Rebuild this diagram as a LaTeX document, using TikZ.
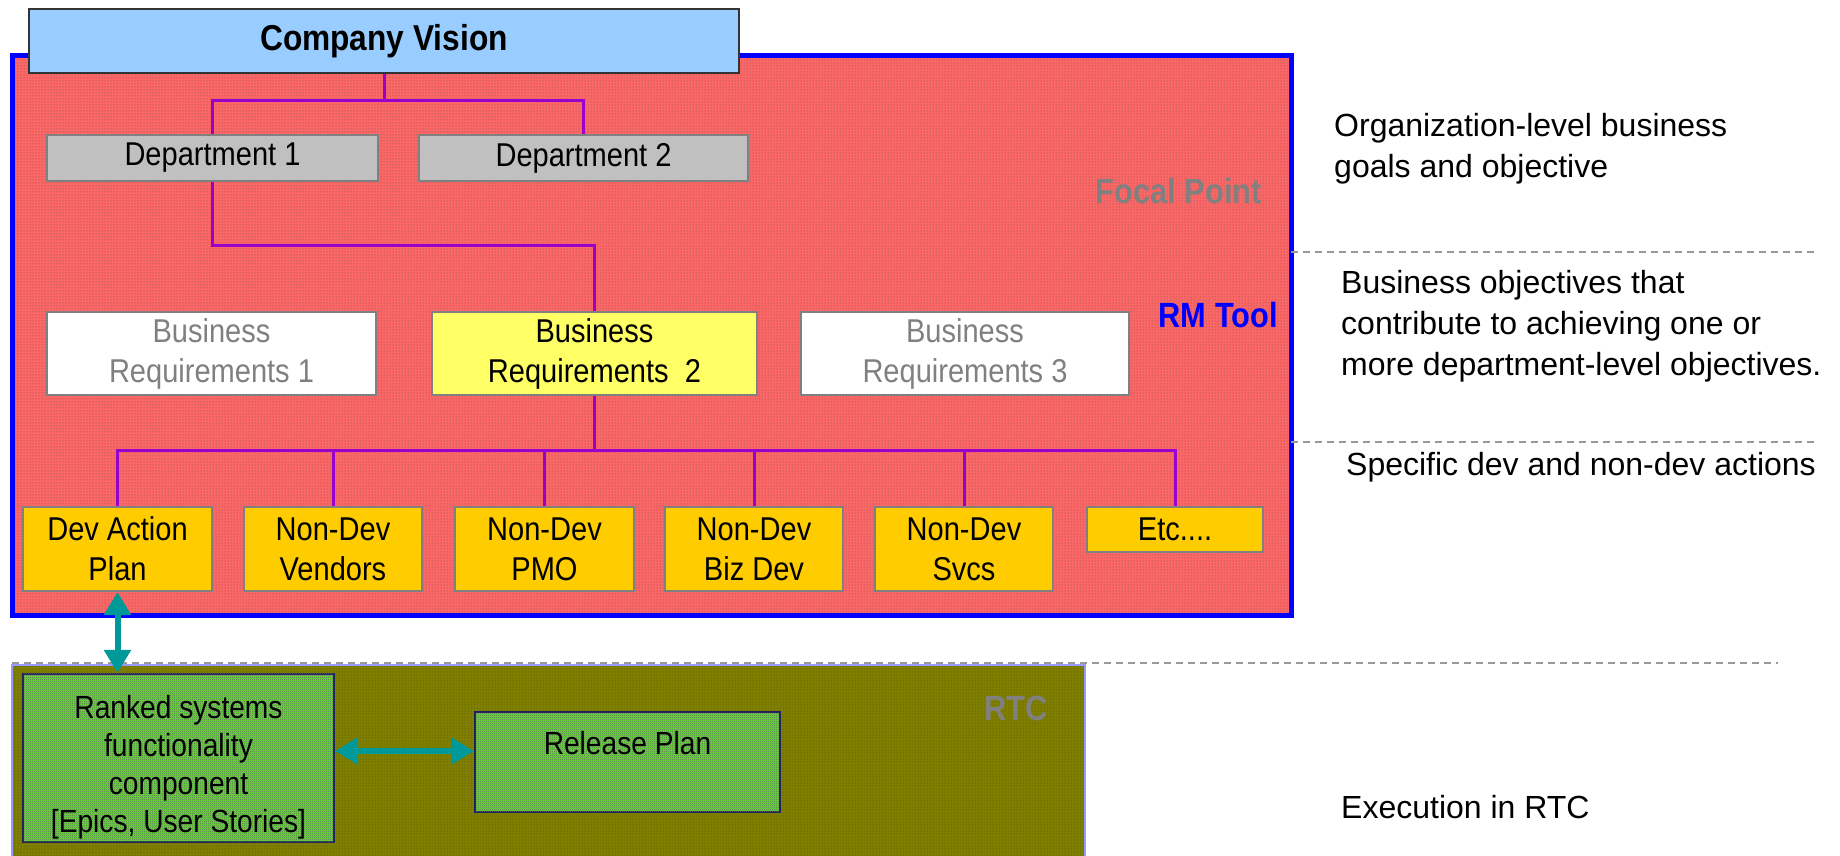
\documentclass[tikz,border=0pt]{standalone}
\usepackage{fontspec}
\setmainfont{Liberation Sans}[FakeStretch=0.88]
\newfontfamily\notefont{Liberation Sans}
\usetikzlibrary{patterns}
\usetikzlibrary{arrows.meta}

\definecolor{visionblue}{HTML}{99CCFF}
\definecolor{rmred}{HTML}{FF6666}
\definecolor{deptgray}{HTML}{C0C0C0}
\definecolor{boxgray}{HTML}{808080}
\definecolor{reqyellow}{HTML}{FFFF66}
\definecolor{actgold}{HTML}{FFCC00}
\definecolor{linkpurple}{HTML}{9900CC}
\definecolor{rtcolive}{HTML}{808000}
\definecolor{rtcgreen}{HTML}{66F033}
\definecolor{rtcnavy}{HTML}{1F1F5F}
\definecolor{arrowteal}{HTML}{009999}
\definecolor{dashgray}{HTML}{999999}

% checkerboard texture of the RTC boxes
\pgfdeclarepatternformonly{checker}{\pgfqpoint{0pt}{0pt}}{\pgfqpoint{2pt}{2pt}}{\pgfqpoint{2pt}{2pt}}{
  \pgfpathrectangle{\pgfqpoint{0pt}{0pt}}{\pgfqpoint{1pt}{1pt}}
  \pgfpathrectangle{\pgfqpoint{1pt}{1pt}}{\pgfqpoint{1pt}{1pt}}
  \pgfusepath{fill}}

\begin{document}
\begin{tikzpicture}[x=1pt, y=-1pt,
  box/.style={draw=boxgray, line width=2pt, inner sep=2pt, align=center,
    font=\fontsize{33}{40}\selectfont},
  dept/.style={box, fill=deptgray, minimum height=46pt},
  req/.style={box, fill=white, text=boxgray, minimum height=83pt},
  act/.style={box, fill=actgold, minimum height=84pt},
  rtcbox/.style={draw=rtcnavy, line width=2pt, fill=rtcgreen!92!black, align=center,
    postaction={pattern=checker, pattern color=gray!80!black},
    font=\fontsize{32}{38}\selectfont},
  link/.style={draw=linkpurple, line width=3pt},
  tealarrow/.style={draw=arrowteal, line width=6pt,
    {Triangle[width=26pt,length=23pt]}-{Triangle[width=26pt,length=23pt]}},
  note/.style={anchor=west, inner sep=0pt, align=left,
    font=\notefont\fontsize{32}{41}\selectfont},
  toollabel/.style={anchor=east, inner sep=0pt, font=\fontsize{35}{40}\selectfont\bfseries},
  sep/.style={draw=dashgray, line width=2pt, dash pattern=on 7pt off 5pt}
]
\useasboundingbox (0,0) rectangle (1840,855);

% RM tool area
\draw[fill=rmred, postaction={pattern=dots, pattern color=black!65}]
  (12,55) rectangle (1291,615);
\draw[blue, line width=5pt] (12,55) rectangle (1291,615);
\node[toollabel, text=boxgray] (focal) at (1262,191) {Focal Point};
\node[toollabel, text=blue] (rmtool) at (1278,315) {RM Tool};

% RTC area
\draw[fill=rtcolive, postaction={pattern=dots, pattern color=rtcolive!55!black}]
  (12,665) rectangle (1085,857);
\draw[draw=blue!40, line width=1.5pt] (1085,857) -- (1085,665) -- (12,665) -- (12,857);
\node[toollabel, text=boxgray] (rtc) at (1048,708) {RTC};

% separators
\draw[sep] (1291,252) -- (1817,252);
\draw[sep] (1291,442) -- (1817,442);
\draw[sep] (12,663) -- (1778,663);

% vision and departments
\node[draw=black!80, line width=1.5pt, fill=visionblue, minimum width=710pt,
  minimum height=64pt, font=\fontsize{36}{40}\selectfont\bfseries] (vision) at (384,41) {Company Vision};
\node[dept, minimum width=331pt] (dept1) at (212.5,158) {Department 1};
\node[dept, minimum width=329pt] (dept2) at (583.5,158) {Department 2};

% business requirements
\node[req, minimum width=329pt] (req1) at (211.5,353.5) {Business\\Requirements 1};
\node[req, fill=reqyellow, text=black, minimum width=325pt] (req2) at (594.5,353.5) {Business\\Requirements~~2};
\node[req, minimum width=328pt] (req3) at (965,353.5) {Business\\Requirements 3};

% actions
\foreach \name/\cx/\w/\txt in {dev/117.5/189/{Dev Action\\Plan}, vendors/333/178/{Non-Dev\\Vendors},
  pmo/544.5/179/{Non-Dev\\PMO}, bizdev/754/178/{Non-Dev\\Biz Dev}, svcs/964/178/{Non-Dev\\Svcs}}
  \node[act, minimum width=\w pt] (\name) at (\cx,549) {\txt};
\node[act, minimum width=176pt, minimum height=45pt] (etcbox) at (1175,529.5) {Etc....};

% links
\draw[link] (vision.south) -- ++(0,27) coordinate (vj) -| (dept1.north);
\draw[link] (vj) -| (dept2.north);
\draw[link] (dept1.south) -- ++(0,63) -| (req2.north);
\draw[link] (req2.south) -- ++(0,54) coordinate (aj);
\foreach \name in {dev,vendors,pmo,bizdev,svcs,etcbox}
  \draw[link] (aj) -| (\name.north);

% RTC items
\node[rtcbox, minimum width=311pt, minimum height=164pt] (ranked) at (178.5,758)
  {\rule{0pt}{41pt}Ranked systems\\functionality\\component\\{[}Epics, User Stories{]}};
\node[rtcbox, minimum width=305pt, minimum height=100pt, inner ysep=2pt,
  text height=40pt, text depth=56pt] (release) at (627.5,762) {Release Plan};
\draw[tealarrow] (dev.south) -- (dev.south |- ranked.north);
\draw[tealarrow] ([yshift=7pt]ranked.east) -- ([yshift=11pt]release.west);

% notes
\node[note] (orgnote) at (1334,148.5) {Organization-level business\\goals and objective};
\node[note] (bizonote) at (1341,326) {Business objectives that\\contribute to achieving one or\\more department-level objectives.};
\node[note] (actnote) at (1346,467) {Specific dev and non-dev actions};
\node[note] (rtcnote) at (1341,807) {Execution in RTC};
\end{tikzpicture}
\end{document}
